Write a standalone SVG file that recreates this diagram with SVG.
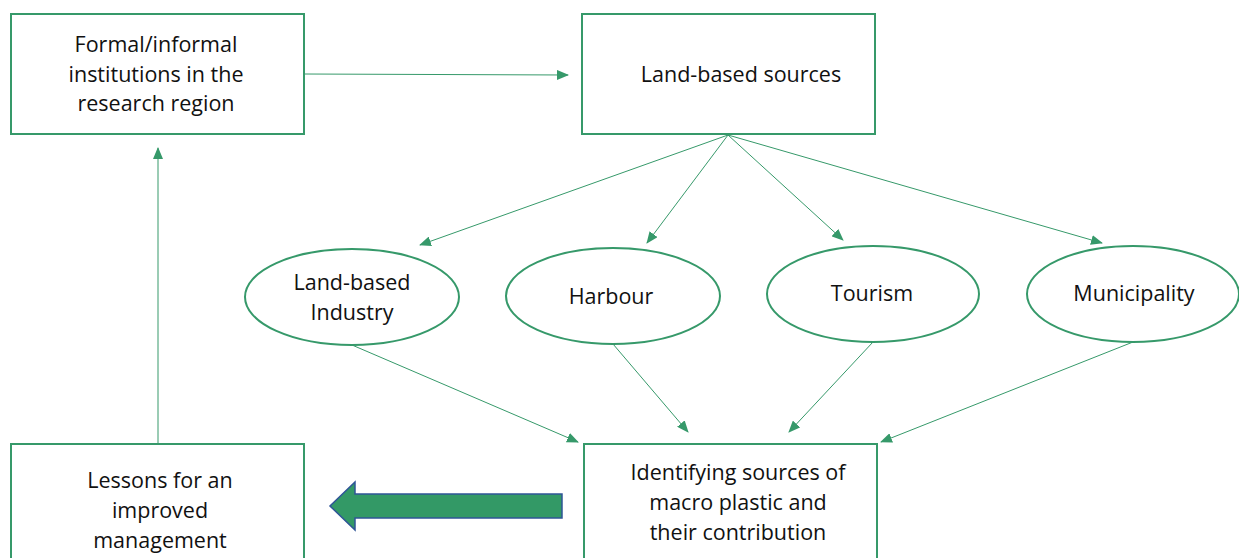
<svg xmlns="http://www.w3.org/2000/svg" width="1239" height="558" viewBox="0 0 1239 558">
  <style>
    .box { fill: #ffffff; stroke: #36996a; stroke-width: 2; }
    .oval { fill: #ffffff; stroke: #36996a; stroke-width: 2; }
    .link { stroke: #36996a; stroke-width: 1; fill: none; marker-end: url(#head); }
    .lbl { font-family: "Open Sans", "Liberation Sans", sans-serif; font-size: 21.5px; fill: #111111; text-anchor: middle; }
  </style>
  <defs>
    <marker id="head" viewBox="0 0 12 10" refX="11" refY="5" markerWidth="12" markerHeight="10" markerUnits="userSpaceOnUse" orient="auto">
      <path d="M0,0 L12,5 L0,10 Z" fill="#36996a"/>
    </marker>
  </defs>
  <rect width="1239" height="558" fill="#ffffff"/>

  <g id="connectors">
    <line class="link" x1="304" y1="74" x2="568" y2="75"/>
    <line class="link" x1="728" y1="135" x2="420" y2="245"/>
    <line class="link" x1="728" y1="135" x2="647" y2="243"/>
    <line class="link" x1="728" y1="135" x2="843" y2="240"/>
    <line class="link" x1="728" y1="135" x2="1102" y2="243"/>
    <line class="link" x1="352" y1="345" x2="578" y2="442"/>
    <line class="link" x1="613" y1="344" x2="688" y2="432"/>
    <line class="link" x1="873" y1="342" x2="789" y2="432"/>
    <line class="link" x1="1133" y1="342" x2="881" y2="442"/>
    <line class="link" x1="158" y1="444" x2="158" y2="148"/>
    <!-- block arrow from findings to lessons -->
    <path d="M562,494 L355,494 L355,482 L330,506 L355,530 L355,518 L562,518 Z" fill="#339966" stroke="#2f5597" stroke-width="1.5"/>
  </g>

  <g id="institutions">
    <rect class="box" x="11" y="14" width="293" height="120"/>
    <text class="lbl" x="156" y="52">Formal/informal</text>
    <text class="lbl" x="156" y="82">institutions in the</text>
    <text class="lbl" x="156" y="111">research region</text>
  </g>

  <g id="land-based-sources">
    <rect class="box" x="582" y="14" width="293" height="120"/>
    <text class="lbl" x="741" y="82">Land-based sources</text>
  </g>

  <g id="industry">
    <ellipse class="oval" cx="352" cy="297" rx="107" ry="48"/>
    <text class="lbl" x="352" y="290">Land-based</text>
    <text class="lbl" x="352" y="320">Industry</text>
  </g>

  <g id="harbour">
    <ellipse class="oval" cx="613" cy="296" rx="107" ry="48"/>
    <text class="lbl" x="611" y="304">Harbour</text>
  </g>

  <g id="tourism">
    <ellipse class="oval" cx="873" cy="294" rx="106" ry="48"/>
    <text class="lbl" x="872" y="301">Tourism</text>
  </g>

  <g id="municipality">
    <ellipse class="oval" cx="1133" cy="294" rx="106" ry="48"/>
    <text class="lbl" x="1134" y="301">Municipality</text>
  </g>

  <g id="identifying">
    <rect class="box" x="584" y="444" width="293" height="130"/>
    <text class="lbl" x="738" y="480">Identifying sources of</text>
    <text class="lbl" x="738" y="510">macro plastic and</text>
    <text class="lbl" x="738" y="540">their contribution</text>
  </g>

  <g id="lessons">
    <rect class="box" x="11" y="444" width="293" height="130"/>
    <text class="lbl" x="160" y="488">Lessons for an</text>
    <text class="lbl" x="160" y="518">improved</text>
    <text class="lbl" x="160" y="548">management</text>
  </g>
</svg>
